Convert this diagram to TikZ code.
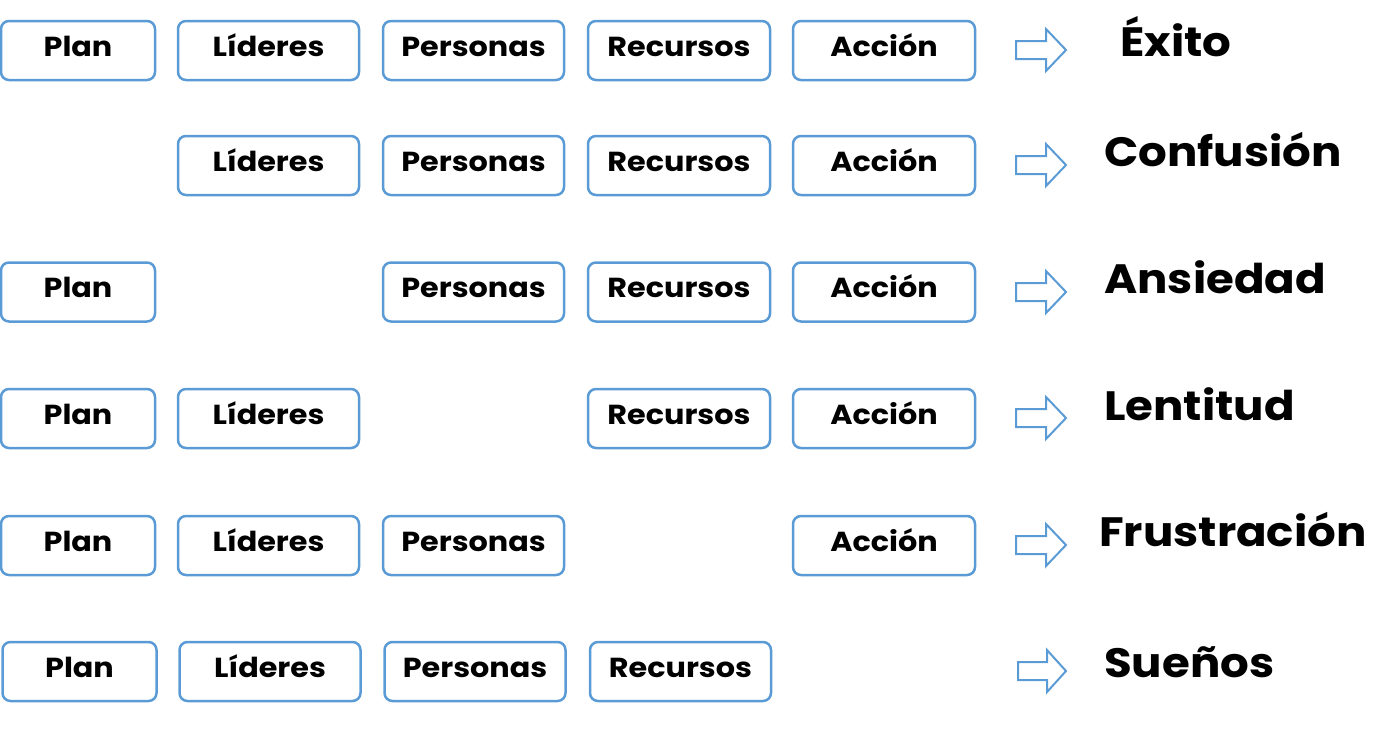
\documentclass[tikz,border=0pt]{standalone}
\usepackage{fontspec}
\setmainfont{Poppins}[FakeStretch=1.1]
\definecolor{boxblue}{HTML}{5B9BD5}
\tikzset{
  stepbox/.style={draw=boxblue, line width=2.5pt, rounded corners=8pt, minimum height=59pt,
    inner sep=0pt, text height=16pt, text depth=5pt, font=\fontsize{27.5}{30}\selectfont\bfseries},
  wbox/.style={stepbox, minimum width=181pt},
  pbox/.style={stepbox, minimum width=154pt},
  result/.style={anchor=base west, inner sep=0pt, font=\fontsize{41}{44}\selectfont\bfseries},
  arr/.style={draw=boxblue, line width=2pt, line join=miter}
}
\begin{document}
\begin{tikzpicture}[x=1pt,y=-1pt]
\useasboundingbox (0,0) rectangle (1396,732);
% row 1
\node[pbox] (p1) at (78,50.5) {Plan};
\node[wbox] (l1) at (268.5,50.5) {Líderes};
\node[wbox] (e1) at (473.5,50.5) {Personas};
\node[wbox,minimum width=182pt] (r1) at (679,50.5) {Recursos};
\node[wbox,minimum width=182pt] (a1) at (884,50.5) {Acción};
\draw[arr] (1016,41) -- (1046,41) -- (1046,29) -- (1066,50) -- (1046,71) -- (1046,59) -- (1016,59) -- cycle;
\node[result] (t1) at (1120,56) {Éxito};
% row 2
\node[wbox] (l2) at (268.5,165.5) {Líderes};
\node[wbox] (e2) at (473.5,165.5) {Personas};
\node[wbox,minimum width=182pt] (r2) at (679,165.5) {Recursos};
\node[wbox,minimum width=182pt] (a2) at (884,165.5) {Acción};
\draw[arr] (1016,156) -- (1046,156) -- (1046,144) -- (1066,165) -- (1046,186) -- (1046,174) -- (1016,174) -- cycle;
\node[result] (t2) at (1104,166) {Confusión};
% row 3
\node[pbox] (p3) at (78,292) {Plan};
\node[wbox] (e3) at (473.5,292) {Personas};
\node[wbox,minimum width=182pt] (r3) at (679,292) {Recursos};
\node[wbox,minimum width=182pt] (a3) at (884,292) {Acción};
\draw[arr] (1016,283) -- (1046,283) -- (1046,271) -- (1066,292) -- (1046,313) -- (1046,301) -- (1016,301) -- cycle;
\node[result] (t3) at (1104,293) {Ansiedad};
% row 4
\node[pbox] (p4) at (78,418.5) {Plan};
\node[wbox] (l4) at (268.5,418.5) {Líderes};
\node[wbox,minimum width=182pt] (r4) at (679,418.5) {Recursos};
\node[wbox,minimum width=182pt] (a4) at (884,418.5) {Acción};
\draw[arr] (1016,409) -- (1046,409) -- (1046,397) -- (1066,418) -- (1046,439) -- (1046,427) -- (1016,427) -- cycle;
\node[result] (t4) at (1104,420) {Lentitud};
% row 5
\node[pbox] (p5) at (78,545.5) {Plan};
\node[wbox] (l5) at (268.5,545.5) {Líderes};
\node[wbox] (e5) at (473.5,545.5) {Personas};
\node[wbox,minimum width=182pt] (a5) at (884,545.5) {Acción};
\draw[arr] (1016,536) -- (1046,536) -- (1046,524) -- (1066,545) -- (1046,566) -- (1046,554) -- (1016,554) -- cycle;
\node[result] (t5) at (1099,546) {Frustración};
% row 6
\node[pbox] (p6) at (79.5,671.5) {Plan};
\node[wbox] (l6) at (270,671.5) {Líderes};
\node[wbox] (e6) at (475,671.5) {Personas};
\node[wbox] (r6) at (680.5,671.5) {Recursos};
\draw[arr] (1018,662) -- (1047,662) -- (1047,650) -- (1066,671) -- (1047,692) -- (1047,680) -- (1018,680) -- cycle;
\node[result] (t6) at (1104,677) {Sueños};
\end{tikzpicture}
\end{document}
